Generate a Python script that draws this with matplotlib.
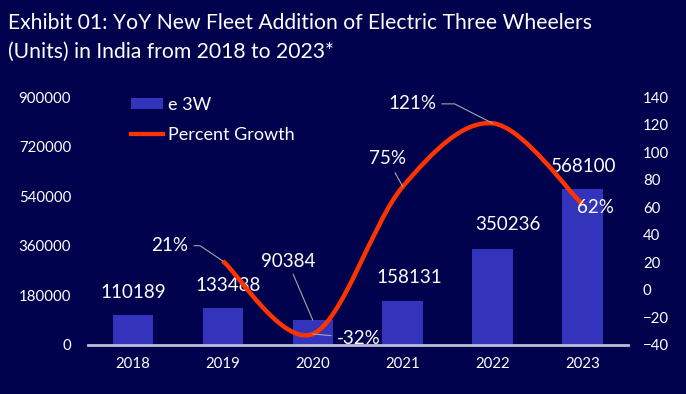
import numpy as np
import matplotlib
matplotlib.use("Agg")
import matplotlib.pyplot as plt
from matplotlib.path import Path
from matplotlib.patches import PathPatch, Patch
from matplotlib.lines import Line2D

plt.rcParams['font.family'] = ['Lato', 'DejaVu Sans']

years = ['2018', '2019', '2020', '2021', '2022', '2023']
units = [110189, 133488, 90384, 158131, 350236, 568100]
growth_years = ['2019', '2020', '2021', '2022', '2023']
growth = [21, -32, 75, 121, 62]
left_ticks = [0, 180000, 360000, 540000, 720000, 900000]
right_ticks = [-40, -20, 0, 20, 40, 60, 80, 100, 120, 140]

BG = '#01024E'
BAR = '#3333BB'
LINE = '#FF3300'
LEAD = '#A6A6A6'

fig = plt.figure(figsize=(6.86, 3.94), dpi=100, facecolor=BG)
ax = fig.add_axes([0.128, 0.1244, 0.787, 0.629])
ax.set_facecolor(BG)
ax2 = ax.twinx()

x = np.arange(len(years))
bars = ax.bar(x, units, width=0.45, color=BAR, zorder=2)
ax.set_xlim(-0.5, len(years) - 0.5)
ax.set_ylim(0, 900000)
ax.set_yticks(left_ticks)
ax.set_yticklabels([str(v) for v in left_ticks])
ax.set_xticks(x)
ax.set_xticklabels(years)
ax.tick_params(axis='both', length=0, colors='white', labelsize=10.8)
ax.tick_params(axis='y', pad=12)
ax.tick_params(axis='x', pad=9)
for s in ['top', 'right', 'left']:
    ax.spines[s].set_visible(False)
ax.spines['bottom'].set_color('#BDBDD6')
ax.spines['bottom'].set_linewidth(2)
ax.spines['bottom'].set_zorder(5)

ax2.set_ylim(-40, 140)
ax2.set_yticks(right_ticks)
ax2.tick_params(axis='y', length=0, colors='white', labelsize=10.8, pad=11)
for s in ['top', 'right', 'left', 'bottom']:
    ax2.spines[s].set_visible(False)

# smooth growth line (Catmull-Rom as cubic Bezier through the data points)
gx = np.array([years.index(y) for y in growth_years], dtype=float)
gy = np.array(growth, dtype=float)
P = np.column_stack([gx, gy])
verts = [P[0]]
codes = [Path.MOVETO]
n = len(P)
for i in range(n - 1):
    p0 = P[i - 1] if i > 0 else P[i]
    p1 = P[i]
    p2 = P[i + 1]
    p3 = P[i + 2] if i + 2 < n else P[i + 1]
    c1 = p1 + (p2 - p0) / 6.0
    c2 = p2 - (p3 - p1) / 6.0
    verts += [c1, c2, p2]
    codes += [Path.CURVE4] * 3
ax2.add_patch(PathPatch(Path(verts, codes), facecolor='none', edgecolor=LINE,
                        lw=3.2, capstyle='butt', zorder=3))

# bar value labels
bar_offsets = [(0, 10), (4, 10), (-18, 36), (5, 11), (11, 11), (1, 10)]
for xi, v, off in zip(x, units, bar_offsets):
    if off[1] > 20:
        ax.annotate(str(v), xy=(xi, v), xytext=off, textcoords='offset points',
                    ha='center', va='bottom', color='white', fontsize=13.5,
                    arrowprops=dict(arrowstyle='-', color=LEAD, lw=0.8,
                                    shrinkA=1, shrinkB=0), zorder=6)
    else:
        ax.annotate(str(v), xy=(xi, v), xytext=off, textcoords='offset points',
                    ha='center', va='bottom', color='white', fontsize=13.5, zorder=6)

# growth labels
g_offsets = [(-38, 11), (33, -3), (-11, 20), (-58, 14), (9, -2)]
g_conn = ['angle,angleA=0,angleB=-34,rad=0', 'arc3,rad=0', 'arc3,rad=0',
          'angle,angleA=0,angleB=-27,rad=0', None]
for xi, v, off, cs in zip(gx, gy, g_offsets, g_conn):
    kw = {}
    if cs is not None:
        kw['arrowprops'] = dict(arrowstyle='-', color=LEAD, lw=0.8,
                                connectionstyle=cs, shrinkA=2, shrinkB=0)
    ax2.annotate(f"{int(v)}%", xy=(xi, v), xytext=off, textcoords='offset points',
                 ha='center', va='center', color='white', fontsize=13.5, zorder=6, **kw)

# legend
handles = [Patch(facecolor=BAR, edgecolor='none'),
           Line2D([0], [0], color=LINE, lw=3)]
leg = fig.legend(handles, ['e 3W', 'Percent Growth'], loc='upper left',
                 bbox_to_anchor=(0.168, 0.795), frameon=False, fontsize=13,
                 labelcolor='white', handlelength=1.75, handleheight=0.55,
                 handletextpad=0.25, labelspacing=0.75)

fig.text(0.012, 0.966, 'Exhibit 01: YoY New Fleet Addition of Electric Three Wheelers\n(Units) in India from 2018 to 2023*',
         color='white', fontsize=15.2, ha='left', va='top', linespacing=1.5)

fig.savefig('out.png', dpi=100, facecolor=BG)
